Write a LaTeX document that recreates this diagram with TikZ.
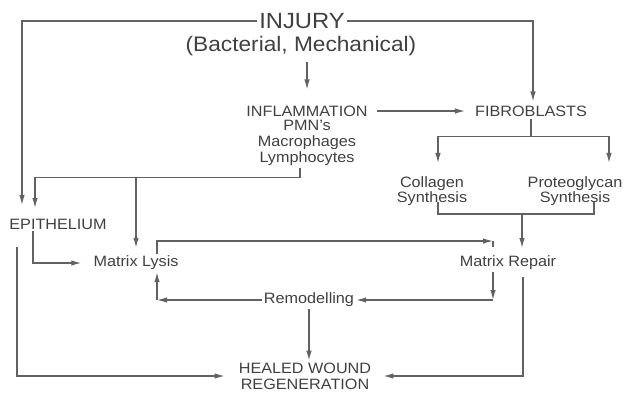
\documentclass[tikz,border=0pt]{standalone}
\usepackage{fontspec}
\setmainfont{Liberation Sans}[FakeStretch=1.08]
\usetikzlibrary{arrows.meta,positioning}

\definecolor{txtgray}{HTML}{404040}
\definecolor{linegray}{HTML}{626262}

\begin{document}
\begin{tikzpicture}[x=1pt,y=-1pt,>={Latex[length=10pt,width=5.5pt]},
    every node/.style={text=txtgray,align=center,inner sep=2pt,
      font=\fontsize{15}{15.7}\selectfont},
    big/.style={font=\fontsize{21}{24}\selectfont},
    flow/.style={draw=linegray,line width=1.3pt}]
      \useasboundingbox (0,0) rectangle (627,394);

      \node[big] (injury) at (302,21) {\fontsize{22}{24}\selectfont INJURY};
      \node[big] (cause) at (301,46) {(Bacterial, Mechanical)};
      \node (infl) at (307,111) {INFLAMMATION};
      \node (cells) at (307,143) {PMN's\\Macrophages\\Lymphocytes};
      \node (fib) at (531,111) {FIBROBLASTS};
      \node (coll) at (432,191) {Collagen\\Synthesis};
      \node (prot) at (575,191) {Proteoglycan\\Synthesis};
      \node (epi) at (58,224) {EPITHELIUM};
      \node (lysis) at (136,263) {Matrix Lysis};
      \node (repair) at (508,263) {Matrix Repair};
      \node (remod) at (309,300) {Remodelling};
      \node (healed) at (305,376) {HEALED WOUND\\REGENERATION};

      \coordinate (epiA) at (22,205);
      \coordinate (epiB) at (35,208);
      \coordinate (repA) at (493,241);
      \coordinate (repB) at (493,300);
      \coordinate (lysB) at (157,300);
      \coordinate (repin) at (522,248);

      % injury
      \draw[flow,->] (injury.west) -| (epiA);
      \draw[flow,->] (injury.east) -| ([xshift=2pt,yshift=2pt]fib.north);
      \draw[flow,->,shorten >=14pt] ([yshift=-4pt]cause.south -| infl.north) -- (infl.north);
      \draw[flow,->,shorten <=7pt,shorten >=8pt] (infl.east) -- (fib.west);

      % inflammation cells
      \draw[flow,->] ([xshift=-7pt]cells.south) -- ++(0,10) coordinate (bus) -| (epiB);
      \draw[flow,->,shorten >=6pt] (bus -| lysis.north) -- (lysis.north);

      % fibroblasts
      \draw[flow] (fib.south) -- ++(0,18) coordinate (fibsplit);
      \draw[flow,->,shorten >=11pt] (fibsplit) -| ([xshift=6pt]coll.north);
      \draw[flow,->,shorten >=11pt] (fibsplit) -| ([xshift=34pt]prot.north);
      \draw[flow] ([xshift=6pt,yshift=6pt]coll.south) -- ([xshift=6pt,yshift=-6pt]coll.south)
        coordinate (synbar) -| ([xshift=19pt,yshift=6pt]prot.south);
      \draw[flow,->] (synbar -| repin) -- (repin);

      % epithelium
      \draw[flow,->,shorten >=10pt] ([xshift=-25pt]epi.south) |- (lysis.west);
      \draw[flow,->,shorten <=16pt,shorten >=12pt] ([xshift=-41pt]epi.south) |- (healed.west);

      % matrix
      \draw[flow,->] ([xshift=21pt]lysis.north) |- (repA);
      \draw[flow] (repA) -- ++(0,6);
      \draw[flow,->] (repB |- repair.south) -- (repB);
      \draw[flow,->] (repB) -- (remod.east);
      \draw[flow,->] (remod.west) -- (lysB);
      \draw[flow,->] (lysB) -- ([xshift=21pt]lysis.south);
      \draw[flow,->] (remod.south) -- (remod.south |- healed.north);
      \draw[flow,->,shorten <=5pt,shorten >=10pt] ([xshift=15pt]repair.south) |- (healed.east);
    \end{tikzpicture}
\end{document}
